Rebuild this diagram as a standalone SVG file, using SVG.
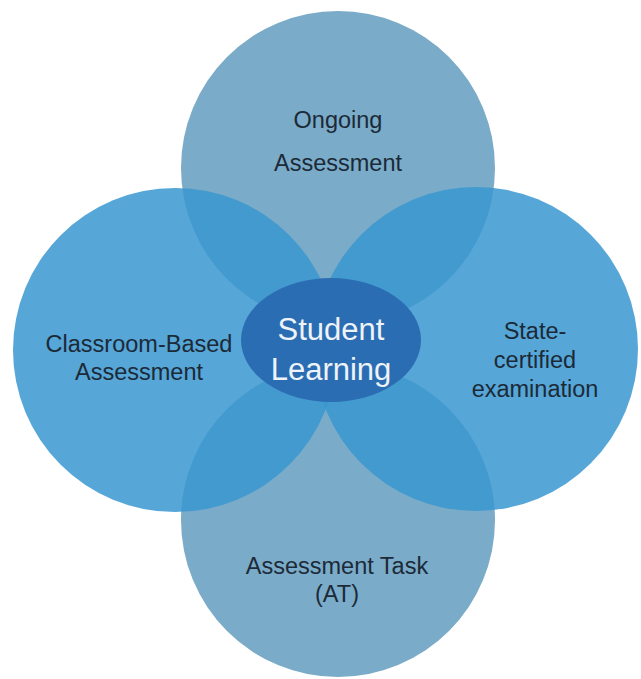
<svg xmlns="http://www.w3.org/2000/svg" width="641" height="679" viewBox="0 0 641 679">
<defs>
<style>
.gray{fill:#7aabc8;}
.blue{fill:#3897d0;fill-opacity:0.85;}
.core{fill:#2b6db3;}
.lbl{font-family:"Liberation Sans",Arial,sans-serif;font-size:23.5px;fill:#1c2a38;text-anchor:middle;}
.core-lbl{font-family:"Liberation Sans",Arial,sans-serif;font-size:31px;fill:#eef3f8;text-anchor:middle;}
</style>
</defs>
<rect width="641" height="679" fill="#ffffff"/>
<g id="ongoing">
<circle class="gray" cx="338" cy="168" r="157"/>
<text class="lbl" x="338" y="128">Ongoing</text>
<text class="lbl" x="338" y="171">Assessment</text>
</g>
<g id="assessment-task">
<circle class="gray" cx="338" cy="520" r="157"/>
<text class="lbl" x="337" y="574">Assessment Task</text>
<text class="lbl" x="337" y="602">(AT)</text>
</g>
<g id="classroom-based">
<circle class="blue" cx="175" cy="350" r="162"/>
<text class="lbl" x="139" y="352">Classroom-Based</text>
<text class="lbl" x="139" y="380">Assessment</text>
</g>
<g id="state-certified">
<circle class="blue" cx="476" cy="349" r="162"/>
<text class="lbl" x="535" y="339">State-</text>
<text class="lbl" x="535" y="368">certified</text>
<text class="lbl" x="535" y="397">examination</text>
</g>
<g id="student-learning">
<ellipse class="core" cx="331" cy="340" rx="90" ry="62"/>
<text class="core-lbl" x="331" y="340">Student</text>
<text class="core-lbl" x="331" y="380">Learning</text>
</g>
</svg>
